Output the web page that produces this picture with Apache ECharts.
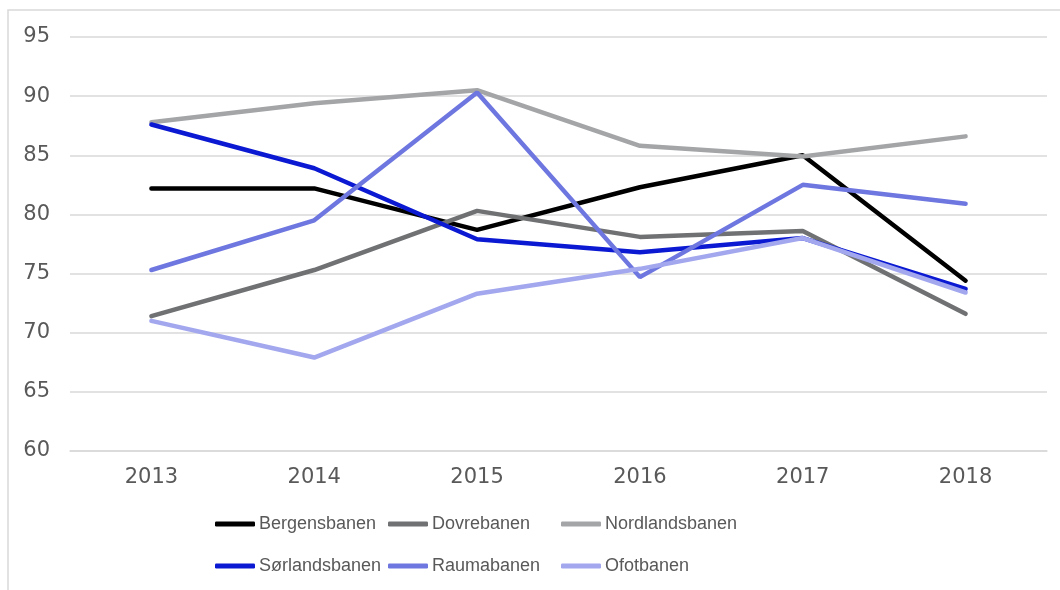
<!DOCTYPE html>
<html>
<head>
<meta charset="utf-8">
<script src="https://cdn.jsdelivr.net/npm/echarts@6/dist/echarts.min.js"></script>
<style>
html,body{margin:0;padding:0;background:#fff;}
#chart{width:1060px;height:590px;}
</style>
</head>
<body>
<div id="chart"></div>
<script>
const years = ['2013', '2014', '2015', '2016', '2017', '2018'];
const seriesNames = ['Bergensbanen', 'Dovrebanen', 'Nordlandsbanen', 'Sørlandsbanen', 'Raumabanen', 'Ofotbanen'];
const bergensbanen   = [82.2, 82.2, 78.7, 82.3, 85.0, 74.4];
const dovrebanen     = [71.4, 75.3, 80.3, 78.1, 78.6, 71.6];
const nordlandsbanen = [87.8, 89.4, 90.5, 85.8, 84.9, 86.6];
const sorlandsbanen  = [87.6, 83.9, 77.9, 76.8, 78.0, 73.7];
const raumabanen     = [75.3, 79.5, 90.3, 74.7, 82.5, 80.9];
const ofotbanen      = [71.0, 67.9, 73.3, 75.4, 78.0, 73.4];
const yTicks = [60, 65, 70, 75, 80, 85, 90, 95];

const seriesData = [bergensbanen, dovrebanen, nordlandsbanen, sorlandsbanen, raumabanen, ofotbanen];
const colors = ['#000000', '#6f7173', '#a3a5a7', '#0b1ad2', '#6e76e0', '#a2a7ee'];

const legendFont = "'Liberation Sans', sans-serif";
const axisFont = "'DejaVu Sans', sans-serif";

const legendPos = [
  [215, 515], [388, 515], [561, 515],
  [215, 557], [388, 557], [561, 557]
];

const chart = echarts.init(document.getElementById('chart'), null, {renderer: 'canvas'});
chart.setOption({
  animation: false,
  color: colors,
  graphic: [{
    type: 'rect',
    shape: {x: 8, y: 10, width: 1200, height: 800},
    style: {fill: 'none', stroke: '#d9d9d9', lineWidth: 1.5},
    silent: true
  }],
  grid: {left: 70, right: 13, top: 37, bottom: 139, containLabel: false},
  legend: seriesNames.map((n, i) => ({
    data: [n],
    left: legendPos[i][0],
    top: legendPos[i][1],
    itemWidth: 40,
    itemHeight: 5,
    icon: 'roundRect',
    itemGap: 0,
    padding: 0,
    textStyle: {fontFamily: legendFont, fontSize: 18, color: '#595959', padding: [0, 0, 0, -1]},
    selectedMode: false
  })),
  xAxis: {
    type: 'category',
    data: years,
    boundaryGap: true,
    axisLine: {show: true, lineStyle: {color: '#d9d9d9', width: 1.5}},
    axisTick: {show: false},
    axisLabel: {fontFamily: axisFont, fontSize: 21, color: '#595959', margin: 16}
  },
  yAxis: {
    type: 'value',
    min: yTicks[0],
    max: yTicks[yTicks.length - 1],
    interval: 5,
    axisLine: {show: false},
    axisTick: {show: false},
    splitLine: {lineStyle: {color: '#d9d9d9', width: 1.5}},
    axisLabel: {fontFamily: axisFont, fontSize: 21, color: '#595959', margin: 20}
  },
  series: seriesNames.map((n, i) => ({
    name: n,
    type: 'line',
    data: seriesData[i],
    symbol: 'none',
    showSymbol: false,
    lineStyle: {width: 4.5, color: colors[i], cap: 'round'},
    itemStyle: {color: colors[i]},
    emphasis: {disabled: true}
  }))
});
</script>
</body>
</html>
